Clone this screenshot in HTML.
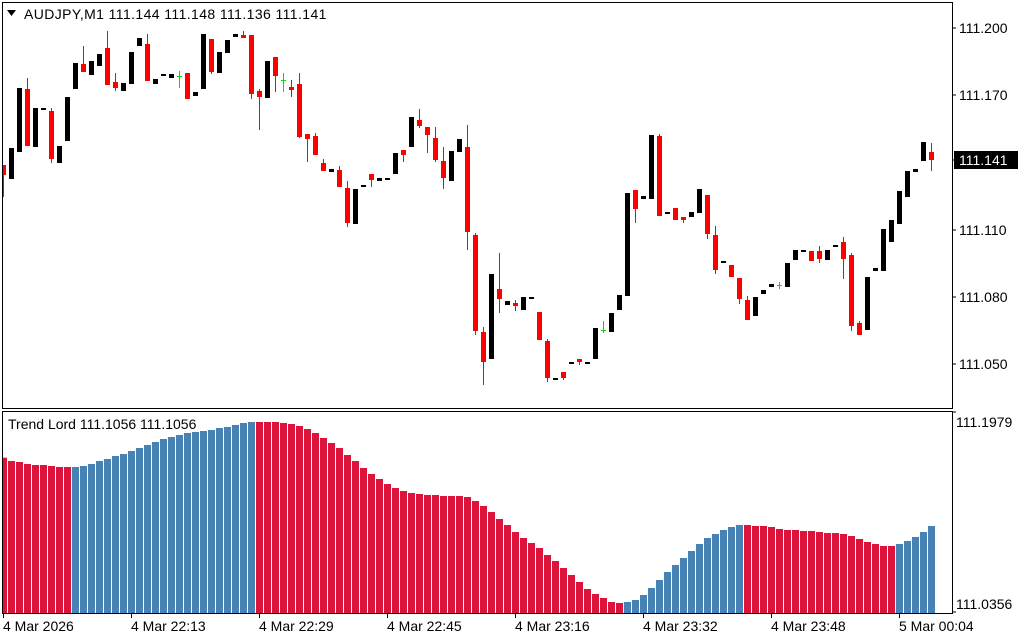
<!DOCTYPE html>
<html><head><meta charset="utf-8"><style>
html,body{margin:0;padding:0;background:#fff;width:1024px;height:640px;overflow:hidden}
svg{display:block}
text{font-family:"Liberation Sans",sans-serif;font-size:14px;fill:#000}
</style></head><body>
<svg id="s" width="1024" height="640" xmlns="http://www.w3.org/2000/svg">
<rect x="0" y="0" width="1024" height="640" fill="#fff"/>
<g id="hist"></g>
<g id="cand"></g>
<rect x="2.5" y="2.5" width="950" height="406" fill="none" stroke="#000" stroke-width="1"/>
<path d="M2.5 411.5H952.5V613.5H2.5Z" fill="none" stroke="#000"/>
<g stroke="#000">
<line x1="952" y1="28" x2="956" y2="28"/><line x1="952" y1="95" x2="956" y2="95"/>
<line x1="952" y1="160" x2="956" y2="160"/><line x1="952" y1="230" x2="956" y2="230"/>
<line x1="952" y1="297" x2="956" y2="297"/><line x1="952" y1="364" x2="956" y2="364"/>
<line x1="952" y1="412" x2="956" y2="412"/><line x1="952" y1="612" x2="956" y2="612"/>
<line x1="3.5" y1="613" x2="3.5" y2="618"/><line x1="131.5" y1="613" x2="131.5" y2="618"/>
<line x1="259.5" y1="613" x2="259.5" y2="618"/><line x1="387.5" y1="613" x2="387.5" y2="618"/>
<line x1="515.5" y1="613" x2="515.5" y2="618"/><line x1="643.5" y1="613" x2="643.5" y2="618"/>
<line x1="771.5" y1="613" x2="771.5" y2="618"/><line x1="899.5" y1="613" x2="899.5" y2="618"/>
</g>
<text x="959" y="33">111.200</text>
<text x="959" y="100">111.170</text>
<rect x="954" y="151" width="64" height="18" fill="#000"/>
<text x="959" y="165" style="fill:#fff">111.141</text>
<text x="959" y="235">111.110</text>
<text x="959" y="302">111.080</text>
<text x="959" y="369">111.050</text>
<text x="956" y="427">111.1979</text>
<text x="956" y="609">111.0356</text>
<text x="3" y="631">4 Mar 2026</text>
<text x="131" y="631">4 Mar 22:13</text>
<text x="259" y="631">4 Mar 22:29</text>
<text x="387" y="631">4 Mar 22:45</text>
<text x="515" y="631">4 Mar 23:16</text>
<text x="643" y="631">4 Mar 23:32</text>
<text x="771" y="631">4 Mar 23:48</text>
<text x="899" y="631">5 Mar 00:04</text>
<path d="M7 10H16L11.5 16Z" fill="#000"/>
<text x="24" y="19" style="letter-spacing:0.4px">AUDJPY,M1  111.144 111.148 111.136 111.141</text>
<text x="8" y="429">Trend Lord 111.1056 111.1056</text>
</svg>
<script>
var NS="http://www.w3.org/2000/svg";
function R(g,x,y,w,h,f){var r=document.createElementNS(NS,"rect");r.setAttribute("x",x);r.setAttribute("y",y);r.setAttribute("width",w);r.setAttribute("height",h);r.setAttribute("fill",f);g.appendChild(r);}
var h=[457.7,461,462,464,465,465,466,467,467,467,466,464,461,459,456,454,451,448,445,442,439,437,435,433,432,431,430,428,427,425,423,422,422,422,422,423,424,426,429,433,438,443,448,455,461,468,474,479,484,488,491,493,494,495,495,496,496,496,497,501,506,512,519,525,532,538,543,548,555,561,568,575,582,589,594,598,602,603,602,600,595,588,580,572,565,558,551,544,538,534,530,527,525,525,526,526,527,529,530,530,531,531,532,533,533,534,536,539,542,544,546,546,544,541,537,532,526];
var hg=document.getElementById("hist");
for(var i=0;i<h.length;i++){var blue=(i>=9&&i<=31)||(i>=78&&i<=92)||(i>=112);
var x=8*i,w=7;if(x<3){w=x+7-3;x=3;}
R(hg,x,h[i],w,613-h[i],blue?"#4682B4":"#DC143C");}
var c=[['r',165,175,165,197],['b',148,179],['b',88,152],['r',89,146,78,146],['b',108,147],['d',108],['r',111,159,108,163],['b',146,163],['b',97,141],['b',63,89],
['r',64,72,46,72],['b',61,75],['b',54,66],['r',48,85,31,85],['r',82,88,73,91],['b',83,91],['b',52,84],['b',38,46],['r',44,81,34,81],['b',79,84],
['d',74],['b',74,78],['g',76,76,71,88],['r',73,99,73,99],['b',92,96],['b',34,89],['r',39,72,39,74],['b',52,73],['b',40,53],['b',34,37],
['r',35,38,31,38],['r',35,94,35,99],['r',91,97,89,130],['b',61,98],['r',57,76,57,92],['g',80,80,73,92],['r',87,90,80,97],['r',84,137,73,138],['r',134,139,134,162],['r',136,155,133,155],
['r',163,171,159,171],['b',169,172],['r',170,187,166,187],['r',188,223,181,227],['b',189,224],['d',185],['r',174,180,174,187],['b',178,181],['d',178],['b',153,174],
['r',150,155,150,162],['b',117,147],['r',120,126,109,128],['r',127,135,127,153],['r',138,160,127,162],['r',161,178,147,189],['b',151,181],['b',139,152],['r',147,232,125,250],['r',235,331,233,335],
['r',332,362,327,385],['b',274,359],['r',289,299,253,313],['b',301,305],['r',303,306,300,311],['b',297,310],['d',297],['r',312,340,312,340],['r',341,378,339,382],['d',378],
['r',372,378,372,380],['b',362,364],['r',359,362,359,365],['b',362,364],['b',328,359],['g',330,330,321,333],['b',313,332],['b',295,310],['b',193,296],['r',190,209,190,223],
['b',196,199],['b',135,199],['r',136,216,134,216],['d',212],['r',208,220,208,220],['r',217,220,217,223],['b',212,217],['b',189,213],['r',195,234,195,239],['r',235,270,226,274],
['d',261],['r',265,277,265,277],['r',278,299,278,304],['r',300,320,296,320],['b',297,316],['b',290,294],['b',284,287],['g',285,285,282,289],['b',263,287],['b',250,260],
['d',250],['r',251,261,251,261],['r',251,259,246,263],['b',250,260],['d',245],['r',242,259,237,279],['r',255,326,253,331],['r',323,335,321,335],['b',277,330],['b',268,271],
['b',229,271],['b',220,242],['b',191,224],['b',171,197],['b',169,172],['b',142,161],['r',152,160,143,171]];
var cg=document.getElementById("cand");
for(var i=0;i<c.length;i++){var d=c[i],cx=8*i+1,t=d[0];
 var x0=cx,w=5;if(x0<3){w=x0+5-3;x0=3;}
 if(t=='d'){R(cg,x0,d[1],w,2,"#000");continue;}
 if(t=='b'){R(cg,x0,d[1],w,d[2]-d[1],"#000");continue;}
 var col=t=='g'?"#00e000":"#ff0000";
 var wx=8*i+3;if(wx<3)wx=3;
 R(cg,wx,d[3],1,d[4]-d[3],col);
 if(t=='g'){R(cg,x0,d[1],w,1,col);}else{R(cg,x0,d[1],w,Math.max(2,d[2]-d[1]),col);}
}
</script>
</body></html>
